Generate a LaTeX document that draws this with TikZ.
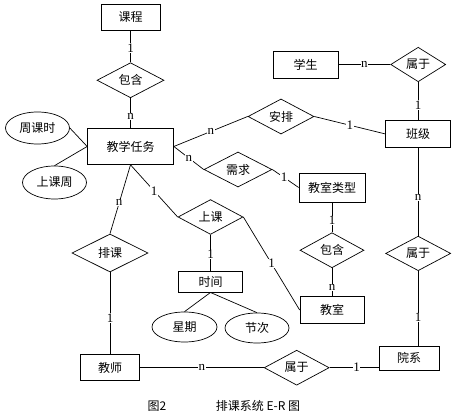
\documentclass[tikz,border=0pt]{standalone}
\usepackage{fontspec}
\newfontfamily\cjk{Noto Sans CJK SC}
\newfontfamily\cardfont{Liberation Serif}
\usetikzlibrary{positioning, shapes.geometric}
\tikzstyle{base} = [inner sep=0pt, line width=0.7pt, font=\cjk\fontsize{12}{14}\selectfont]
\tikzstyle{entity} = [draw, base, rectangle, minimum width=65pt, minimum height=27pt]
\tikzstyle{relation} = [draw, base, diamond, minimum width=65pt, minimum height=33pt]
\tikzstyle{attribute} = [draw, base, ellipse, minimum width=64pt, minimum height=31pt]
\tikzstyle{card} = [font=\cardfont\fontsize{13}{14}\selectfont, fill=white, inner sep=0.5pt]
\tikzstyle{link} = [line width=0.7pt]
\tikzstyle{caption} = [font=\cjk\fontsize{12}{14}\selectfont]

\begin{document}
\begin{tikzpicture}[x=1pt, y=1pt]
    \useasboundingbox (0,0) rectangle (453,-420);

    % Left column.
    \node (course) [entity, minimum width=59pt, minimum height=26pt] at (130.5,-17) {课程};
    \node (contain1) [relation, minimum width=67pt, minimum height=34pt, below=32pt of course] {包含};
    \node (task) [entity, minimum width=86pt, minimum height=36pt, below=30pt of contain1] {教学任务};
    \node (weekhours) [attribute, minimum height=32pt] at (37.5,-128) {周课时};
    \node (weeks) [attribute, minimum height=33pt] at (54.5,-182.5) {上课周};
    \node (schedule) [relation, minimum width=76pt, minimum height=38pt] at (110,-253) {排课};
    \node (teacher) [entity, minimum width=59pt, minimum height=26pt, below=82pt of schedule] {教师};

    % Middle.
    \node (arrange) [relation, minimum width=66pt] at (281,-116.5) {安排};
    \node (need) [relation, minimum width=68pt, minimum height=35pt] at (238,-169.5) {需求};
    \node (attend) [relation, minimum height=32pt] at (210.5,-217) {上课};
    \node (time) [entity, minimum width=64pt, minimum height=21pt, below=36pt of attend] {时间};
    \node (weekday) [attribute, minimum width=65pt, minimum height=30pt] at (184.5,-327) {星期};
    \node (period) [attribute, minimum height=30pt] at (257,-328) {节次};
    \node (roomtype) [entity, minimum width=66pt, minimum height=29pt] at (332,-187.5) {教室类型};
    \node (contain2) [relation, minimum width=64pt, minimum height=32pt, below=30pt of roomtype] {包含};
    \node (room) [entity, minimum width=64pt, below=28pt of contain2] {教室};
    \node (belong3) [relation, minimum height=35pt, right=124pt of teacher] {属于};

    % Right column.
    \node (student) [entity] at (305.5,-64.5) {学生};
    \node (belong1) [relation, minimum width=55pt, minimum height=28pt, right=52pt of student] {属于};
    \node (class) [entity, below=38pt of belong1] {班级};
    \node (belong2) [relation, below=88pt of class] {属于};
    \node (dept) [entity, minimum width=60pt, minimum height=24pt] at (409,-358) {院系};

    % Caption.
    \node (fignum) [caption] at (157,-406) {图2};
    \node (title) [caption] at (258,-406) {排课系统 E-R 图};

    % Connectors.
    \draw [link] (course) -- node [card, pos=0.55] {1} (contain1);
    \draw [link] (contain1) -- node [card, pos=0.6] {n} (task);
    \draw [link] (weekhours.east) -- (task.west);
    \draw [link] (weeks.north) -- (task.west);
    \draw [link] (task.east) -- node [card] {n} (arrange.west);
    \draw [link] (arrange.east) -- node [card] {1} (class.west);
    \draw [link] (task.east) -- node [card] {n} (need.west);
    \draw [link] (need.east) -- node [card, pos=0.45] {1} (roomtype.west);
    \draw [link] (roomtype) -- node [card, pos=0.6] {1} (contain2);
    \draw [link] (contain2) -- node [card, pos=0.7] {n} (room);
    \draw [link] (student) -- node [card] {n} (belong1);
    \draw [link] (belong1) -- node [card, pos=0.6] {1} (class);
    \draw [link] (class) -- node [card, pos=0.56] {n} (belong2);
    \draw [link] (belong2.south) -- node [card, pos=0.62] {1} (belong2.south |- dept.north);
    \draw [link] (task.south) -- node [card] {1} (attend.west);
    \draw [link] (attend.east) -- node [card] {1} (room.west);
    \draw [link] (attend) -- node [card, pos=0.55] {1} (time);
    \draw [link] (time.south) -- (weekday.north);
    \draw [link] (time.south) -- (period.north);
    \draw [link] (task.south) -- node [card, pos=0.55] {n} (schedule.north);
    \draw [link] (schedule) -- node [card, pos=0.56] {1} (teacher);
    \draw [link] (teacher) -- node [card] {n} (belong3);
    \draw [link] (belong3.east) -- node [card, pos=0.55] {1} (belong3.east -| dept.west);
\end{tikzpicture}
\end{document}
